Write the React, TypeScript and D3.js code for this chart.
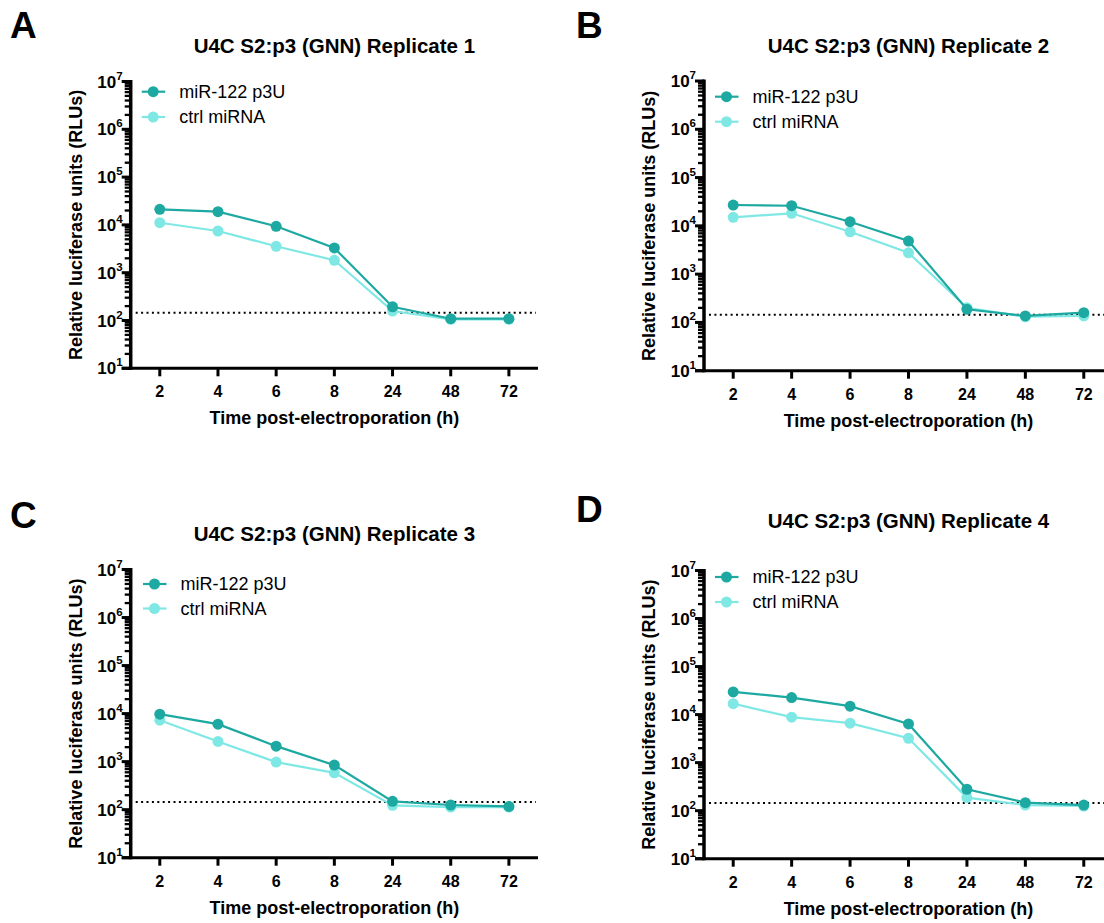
import React from "react";
import * as d3 from "d3";

const timeLabels = ["2", "4", "6", "8", "24", "48", "72"];
const seriesNames = ["miR-122 p3U", "ctrl miRNA"];
const panelLetters = ["A", "B", "C", "D"];
const panelTitles = [
  "U4C S2:p3 (GNN) Replicate 1",
  "U4C S2:p3 (GNN) Replicate 2",
  "U4C S2:p3 (GNN) Replicate 3",
  "U4C S2:p3 (GNN) Replicate 4",
];
const mirA = [21200, 18900, 9350, 3290, 194, 109, 109];
const ctrlA = [11100, 7450, 3570, 1820, 158, 106, 106];
const mirB = [27000, 26100, 12200, 4850, 187, 136, 159];
const ctrlB = [15000, 18200, 7550, 2770, 201, 131, 136];
const mirC = [9720, 6030, 2100, 846, 149, 125, 117];
const ctrlC = [7300, 2630, 977, 585, 123, 113, 113];
const mirD = [29700, 22600, 14960, 6400, 279, 147, 131];
const ctrlD = [16900, 8830, 6620, 3220, 187, 131, 125];
const detectionLimit = 145;
const yExponents = [1, 2, 3, 4, 5, 6, 7];

const DARK = "#1DA9A1";
const LIGHT = "#80E8E4";
const FONT = "'Liberation Sans', Arial, Helvetica, sans-serif";

const layouts = [
  { axisX: 130.7, xEnd: 538, yTop: 81.5, yBottom: 368.3, titleY: 53, letterX: 10, letterY: 38, legX: 141.7, legY1: 91.7, legY2: 117 },
  { axisX: 704, xEnd: 1113, yTop: 81, yBottom: 370.7, titleY: 53, letterX: 576, letterY: 38, legX: 715, legY1: 96.7, legY2: 121.7 },
  { axisX: 130.7, xEnd: 538, yTop: 569.5, yBottom: 857.7, titleY: 541, letterX: 10, letterY: 528, legX: 143, legY1: 584, legY2: 608.5 },
  { axisX: 704, xEnd: 1113, yTop: 570.5, yBottom: 858.7, titleY: 528, letterX: 576, letterY: 522, legX: 715, legY1: 577, legY2: 602 },
];

const panelData = [
  [mirA, ctrlA],
  [mirB, ctrlB],
  [mirC, ctrlC],
  [mirD, ctrlD],
];

function Panel({ idx }: { idx: number }) {
  const L = layouts[idx];
  const [mir, ctrl] = panelData[idx];
  const x = d3.scalePoint<string>().domain(timeLabels).range([L.axisX, L.xEnd]).padding(0.5);
  const y = d3.scaleLog().domain([10, 1e7]).range([L.yBottom, L.yTop]);
  const line = d3
    .line<number>()
    .x((_, i) => x(timeLabels[i]) as number)
    .y((d) => y(d));
  const minor: number[] = [];
  for (let e = 1; e < 7; e++) for (let k = 2; k <= 9; k++) minor.push(k * Math.pow(10, e));
  const cx = (L.axisX + L.xEnd) / 2;
  const series = [
    { vals: ctrl, color: LIGHT },
    { vals: mir, color: DARK },
  ];
  return (
    <g fontFamily={FONT}>
      <text x={L.letterX} y={L.letterY} fontSize={37} fontWeight="bold" fill="#000">
        {panelLetters[idx]}
      </text>
      <text x={cx} y={L.titleY} fontSize={20.5} fontWeight="bold" textAnchor="middle" fill="#000">
        {panelTitles[idx]}
      </text>
      {/* y-axis minor ticks */}
      {minor.map((v, i) => (
        <line key={"m" + i} x1={L.axisX - 6} x2={L.axisX} y1={y(v)} y2={y(v)} stroke="#000" strokeWidth={2.3} />
      ))}
      {yExponents.map((e) => (
        <g key={"e" + e}>
          <line x1={L.axisX - 9} x2={L.axisX} y1={y(Math.pow(10, e))} y2={y(Math.pow(10, e))} stroke="#000" strokeWidth={3} />
          <text x={L.axisX - 8} y={y(Math.pow(10, e)) + 6} textAnchor="end" fontWeight="bold" fill="#000">
            <tspan fontSize={17}>10</tspan>
            <tspan fontSize={11.5} dy={-8}>{e}</tspan>
          </text>
        </g>
      ))}
      <line x1={L.axisX} x2={L.axisX} y1={L.yTop - 1.5} y2={L.yBottom + 1.5} stroke="#000" strokeWidth={3.5} />
      {/* x-axis */}
      <line x1={L.axisX - 9} x2={L.xEnd} y1={L.yBottom} y2={L.yBottom} stroke="#000" strokeWidth={3} />
      {timeLabels.map((t) => (
        <g key={t}>
          <line x1={x(t)} x2={x(t)} y1={L.yBottom} y2={L.yBottom + 8} stroke="#000" strokeWidth={3} />
          <text x={x(t)} y={L.yBottom + 29} fontSize={16} fontWeight="bold" textAnchor="middle" fill="#000">
            {t}
          </text>
        </g>
      ))}
      <text x={cx} y={L.yBottom + 56} fontSize={18} fontWeight="bold" textAnchor="middle" fill="#000">
        Time post-electroporation (h)
      </text>
      <text
        transform={`translate(${L.axisX - 49},${(L.yTop + L.yBottom) / 2}) rotate(-90)`}
        fontSize={18}
        fontWeight="bold"
        textAnchor="middle"
        fill="#000"
      >
        Relative luciferase units (RLUs)
      </text>
      {/* detection limit */}
      <line
        x1={L.axisX + 5}
        x2={L.xEnd - 2}
        y1={y(detectionLimit)}
        y2={y(detectionLimit)}
        stroke="#000"
        strokeWidth={2}
        strokeDasharray="2,3.4"
      />
      {series.map((s, si) => (
        <g key={"s" + si}>
          <path d={line(s.vals) || ""} fill="none" stroke={s.color} strokeWidth={2.2} />
          {s.vals.map((v, i) => (
            <circle key={i} cx={x(timeLabels[i]) as number} cy={y(v)} r={5.5} fill={s.color} />
          ))}
        </g>
      ))}
      {/* legend */}
      {[DARK, LIGHT].map((c, i) => {
        const ly = i === 0 ? L.legY1 : L.legY2;
        return (
          <g key={"l" + i}>
            <line x1={L.legX} x2={L.legX + 23.5} y1={ly} y2={ly} stroke={c} strokeWidth={2.2} />
            <circle cx={L.legX + 11.5} cy={ly} r={5.5} fill={c} />
            <text x={L.legX + 37.5} y={ly + 6.3} fontSize={18} fill="#000">
              {seriesNames[i]}
            </text>
          </g>
        );
      })}
    </g>
  );
}

export default function App() {
  return (
    <div style={{ position: "absolute", left: 0, top: 0, width: 1104, height: 923, background: "#fff" }}>
      <svg width={1104} height={923} viewBox="0 0 1104 923" style={{ display: "block" }}>
        <rect width={1104} height={923} fill="#fff" />
        {[0, 1, 2, 3].map((i) => (
          <Panel key={i} idx={i} />
        ))}
      </svg>
    </div>
  );
}
